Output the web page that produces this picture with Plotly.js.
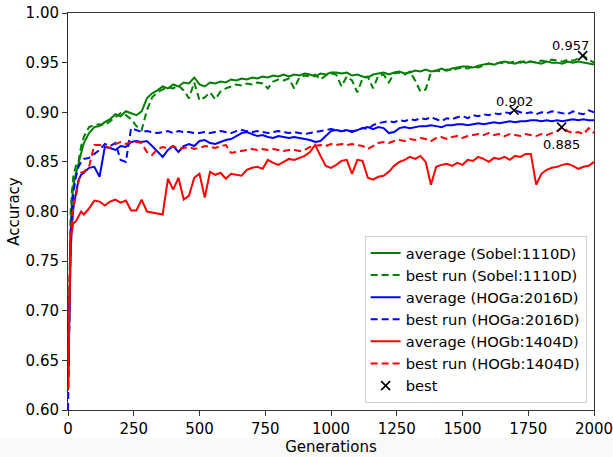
<!DOCTYPE html>
<html>
<head>
<meta charset="utf-8">
<script src="https://cdn.plot.ly/plotly-3.0.1.min.js"></script>
<style>
html,body{margin:0;padding:0;background:#fff;}
#chart{width:613px;height:457px;}
</style>
</head>
<body>
<div id="chart"></div>
<script>
// Generations (x values)
var generations = [0,5,10,15,20,30,40,50,
60,80,100,120,140,160,180,200,220,240,
260,280,300,320,340,360,380,400,420,440,
460,480,500,520,540,560,580,600,620,640,
660,680,700,720,740,760,780,800,820,840,
860,880,900,920,940,960,980,1000,1020,1040,
1060,1080,1100,1120,1140,1160,1180,1200,1220,1240,
1260,1280,1300,1320,1340,1360,1380,1400,1420,1440,
1460,1480,1500,1520,1540,1560,1580,1600,1620,1640,
1660,1680,1700,1720,1740,1760,1780,1800,1820,1840,
1860,1880,1900,1920,1940,1960,1980,2000];

var sobelAvg = [0.63,0.72,0.78,0.81,0.825,0.838,0.848,0.860,
0.869,0.879,0.885,0.886,0.890,0.893,0.898,0.896,0.901,0.899,
0.897,0.901,0.914,0.919,0.922,0.926,0.924,0.928,0.926,0.930,
0.929,0.935,0.928,0.926,0.930,0.929,0.931,0.930,0.933,0.932,
0.934,0.933,0.935,0.934,0.936,0.935,0.937,0.936,0.938,0.936,
0.938,0.937,0.939,0.938,0.936,0.939,0.938,0.940,0.940,0.939,
0.940,0.937,0.938,0.936,0.935,0.938,0.939,0.940,0.938,0.940,
0.941,0.939,0.940,0.942,0.941,0.943,0.941,0.942,0.944,0.942,
0.944,0.945,0.946,0.946,0.945,0.947,0.948,0.949,0.948,0.950,
0.951,0.950,0.949,0.951,0.950,0.951,0.950,0.949,0.951,0.950,
0.950,0.949,0.951,0.950,0.951,0.950,0.949,0.948];

var sobelBest = [0.63,0.74,0.80,0.82,0.835,0.846,0.850,0.866,
0.875,0.885,0.887,0.888,0.887,0.891,0.895,0.899,0.897,0.893,
0.886,0.882,0.902,0.915,0.920,0.923,0.925,0.924,0.927,0.922,
0.914,0.930,0.912,0.915,0.920,0.913,0.921,0.924,0.926,0.928,
0.927,0.929,0.928,0.930,0.929,0.924,0.931,0.933,0.932,0.934,
0.924,0.935,0.937,0.936,0.938,0.933,0.937,0.939,0.938,0.926,
0.936,0.932,0.920,0.934,0.936,0.924,0.937,0.938,0.930,0.939,
0.940,0.938,0.941,0.932,0.921,0.923,0.940,0.942,0.941,0.943,
0.942,0.944,0.945,0.944,0.946,0.945,0.947,0.949,0.948,0.950,
0.949,0.950,0.951,0.950,0.952,0.951,0.950,0.952,0.951,0.953,
0.952,0.951,0.953,0.952,0.954,0.957,0.953,0.950];

var hogaAvg = [0.62,0.70,0.76,0.785,0.803,0.818,0.832,0.837,
0.839,0.844,0.845,0.835,0.865,0.864,0.862,0.866,0.865,0.870,
0.871,0.870,0.871,0.866,0.860,0.855,0.862,0.866,0.860,0.866,
0.868,0.866,0.871,0.872,0.869,0.868,0.870,0.872,0.873,0.876,
0.879,0.880,0.878,0.876,0.877,0.875,0.874,0.876,0.875,0.874,
0.875,0.874,0.873,0.872,0.870,0.871,0.876,0.881,0.882,0.881,
0.882,0.880,0.882,0.884,0.885,0.883,0.885,0.884,0.879,0.880,
0.884,0.885,0.884,0.885,0.886,0.886,0.887,0.886,0.885,0.887,
0.887,0.888,0.888,0.887,0.888,0.889,0.888,0.889,0.890,0.889,
0.890,0.891,0.890,0.891,0.891,0.892,0.892,0.891,0.892,0.891,
0.892,0.891,0.892,0.893,0.892,0.893,0.892,0.892];

var hogaBest = [0.60,0.70,0.77,0.80,0.818,0.835,0.845,0.850,
0.853,0.854,0.858,0.862,0.868,0.866,0.869,0.852,0.850,0.884,
0.882,0.880,0.881,0.880,0.879,0.880,0.881,0.879,0.881,0.880,
0.880,0.879,0.879,0.880,0.879,0.880,0.881,0.880,0.879,0.881,
0.882,0.881,0.880,0.881,0.880,0.879,0.880,0.881,0.880,0.879,
0.880,0.879,0.878,0.879,0.880,0.881,0.882,0.883,0.882,0.881,
0.882,0.881,0.882,0.884,0.883,0.887,0.889,0.890,0.891,0.890,
0.892,0.891,0.893,0.892,0.894,0.893,0.895,0.893,0.891,0.894,
0.893,0.895,0.896,0.894,0.897,0.896,0.898,0.897,0.899,0.898,
0.900,0.899,0.902,0.900,0.899,0.900,0.898,0.900,0.899,0.901,
0.900,0.899,0.898,0.901,0.899,0.898,0.902,0.900];

var hogbAvg = [0.62,0.70,0.775,0.780,0.788,0.790,0.795,0.800,
0.797,0.803,0.811,0.810,0.806,0.810,0.812,0.809,0.811,0.801,
0.801,0.812,0.800,0.799,0.798,0.797,0.833,0.822,0.834,0.812,
0.816,0.834,0.838,0.814,0.840,0.837,0.839,0.833,0.838,0.837,
0.836,0.842,0.844,0.845,0.843,0.852,0.849,0.847,0.850,0.853,
0.852,0.854,0.856,0.860,0.867,0.856,0.846,0.844,0.847,0.851,
0.852,0.838,0.852,0.851,0.834,0.832,0.835,0.836,0.840,0.846,
0.850,0.852,0.855,0.853,0.856,0.850,0.827,0.845,0.847,0.848,
0.846,0.849,0.847,0.852,0.851,0.855,0.853,0.850,0.854,0.853,
0.855,0.852,0.856,0.855,0.858,0.858,0.827,0.838,0.842,0.844,
0.845,0.847,0.848,0.846,0.843,0.845,0.846,0.850];

var hogbBest = [0.64,0.72,0.78,0.79,0.805,0.815,0.830,0.839,
0.840,0.845,0.867,0.867,0.866,0.864,0.868,0.870,0.868,0.870,
0.870,0.869,0.860,0.857,0.863,0.865,0.864,0.866,0.863,0.864,
0.865,0.863,0.864,0.866,0.865,0.864,0.866,0.867,0.859,0.860,
0.861,0.862,0.863,0.862,0.863,0.862,0.863,0.862,0.861,0.862,
0.862,0.861,0.862,0.865,0.866,0.867,0.866,0.868,0.867,0.868,
0.867,0.868,0.867,0.866,0.863,0.866,0.869,0.870,0.869,0.871,
0.872,0.871,0.873,0.872,0.874,0.873,0.871,0.874,0.875,0.873,
0.875,0.876,0.874,0.876,0.877,0.878,0.877,0.879,0.877,0.878,
0.876,0.878,0.877,0.876,0.878,0.877,0.876,0.878,0.877,0.879,
0.881,0.885,0.881,0.879,0.880,0.878,0.884,0.879];

// Best points
var bestGen = [1957, 1696, 1877];
var bestAcc = [0.957, 0.902, 0.885];
var bestLabels = ["0.957", "0.902", "0.885"];
var bestLabelDx = [-12, 0, 0];
var bestLabelDy = [10, 9, -17];

var seriesNames = ["average (Sobel:1110D)", "best run (Sobel:1110D)",
  "average (HOGa:2016D)", "best run (HOGa:2016D)",
  "average (HOGb:1404D)", "best run (HOGb:1404D)"];
var seriesData = [sobelAvg, sobelBest, hogaAvg, hogaBest, hogbAvg, hogbBest];
var seriesColors = ["#008000", "#008000", "#0000ff", "#0000ff", "#ff0000", "#ff0000"];
var seriesDash = ["solid", "7px,4px", "solid", "7px,4px", "solid", "7px,4px"];

var traces = [];
for (var i = 0; i < seriesData.length; i++) {
  traces.push({
    x: generations, y: seriesData[i], type: "scatter", mode: "lines",
    name: seriesNames[i],
    line: {color: seriesColors[i], width: 2, dash: seriesDash[i]}
  });
}
traces.push({
  x: bestGen, y: bestAcc, type: "scatter", mode: "markers", name: "best",
  marker: {symbol: "x-thin", size: 9, line: {color: "#000", width: 1.6}, color: "#000"}
});

var annotations = [];
for (var j = 0; j < bestGen.length; j++) {
  annotations.push({
    x: bestGen[j], y: bestAcc[j], xref: "x", yref: "y", text: bestLabels[j],
    showarrow: false, yshift: bestLabelDy[j], xshift: bestLabelDx[j],
    font: {family: "DejaVu Sans", size: 13, color: "#000"}
  });
}

var layout = {
  width: 613, height: 457,
  margin: {l: 68, r: 19, t: 13, b: 47},
  paper_bgcolor: "#fff", plot_bgcolor: "#fff",
  font: {family: "DejaVu Sans", color: "#000"},
  showlegend: true,
  legend: {
    x: 0.986, y: 0.018, xanchor: "right", yanchor: "bottom",
    bgcolor: "rgba(255,255,255,0.85)", bordercolor: "#d0d0d0", borderwidth: 1,
    font: {family: "DejaVu Sans", size: 14.7, color: "#000"}
  },
  shapes: [{type: "rect", xref: "paper", yref: "paper", x0: -0.2, x1: 1.1, y0: -0.0705, y1: -0.2,
    fillcolor: "#f9f9f9", line: {width: 0}, layer: "below"}],
  xaxis: {
    range: [0, 2000], tickvals: [0,250,500,750,1000,1250,1500,1750,2000],
    ticks: "outside", ticklen: 5, tickcolor: "#333", tickwidth: 1,
    ticklabeloverflow: "allow",
    showline: true, linecolor: "#333", linewidth: 1, mirror: true,
    showgrid: false, zeroline: false,
    tickfont: {family: "DejaVu Sans", size: 15, color: "#000"},
    title: {text: "Generations", font: {family: "DejaVu Sans", size: 15, color: "#000"}, standoff: 4}
  },
  yaxis: {
    range: [0.6, 1.0], dtick: 0.05, tick0: 0.6, tickformat: ".2f",
    ticks: "outside", ticklen: 5, tickcolor: "#333", tickwidth: 1,
    showline: true, linecolor: "#333", linewidth: 1, mirror: true,
    showgrid: false, zeroline: false,
    tickfont: {family: "DejaVu Sans", size: 15, color: "#000"},
    title: {text: "Accuracy", font: {family: "DejaVu Sans", size: 15, color: "#000"}, standoff: 2}
  },
  annotations: annotations
};

Plotly.newPlot("chart", traces, layout, {displayModeBar: false, staticPlot: true});
</script>
</body>
</html>
